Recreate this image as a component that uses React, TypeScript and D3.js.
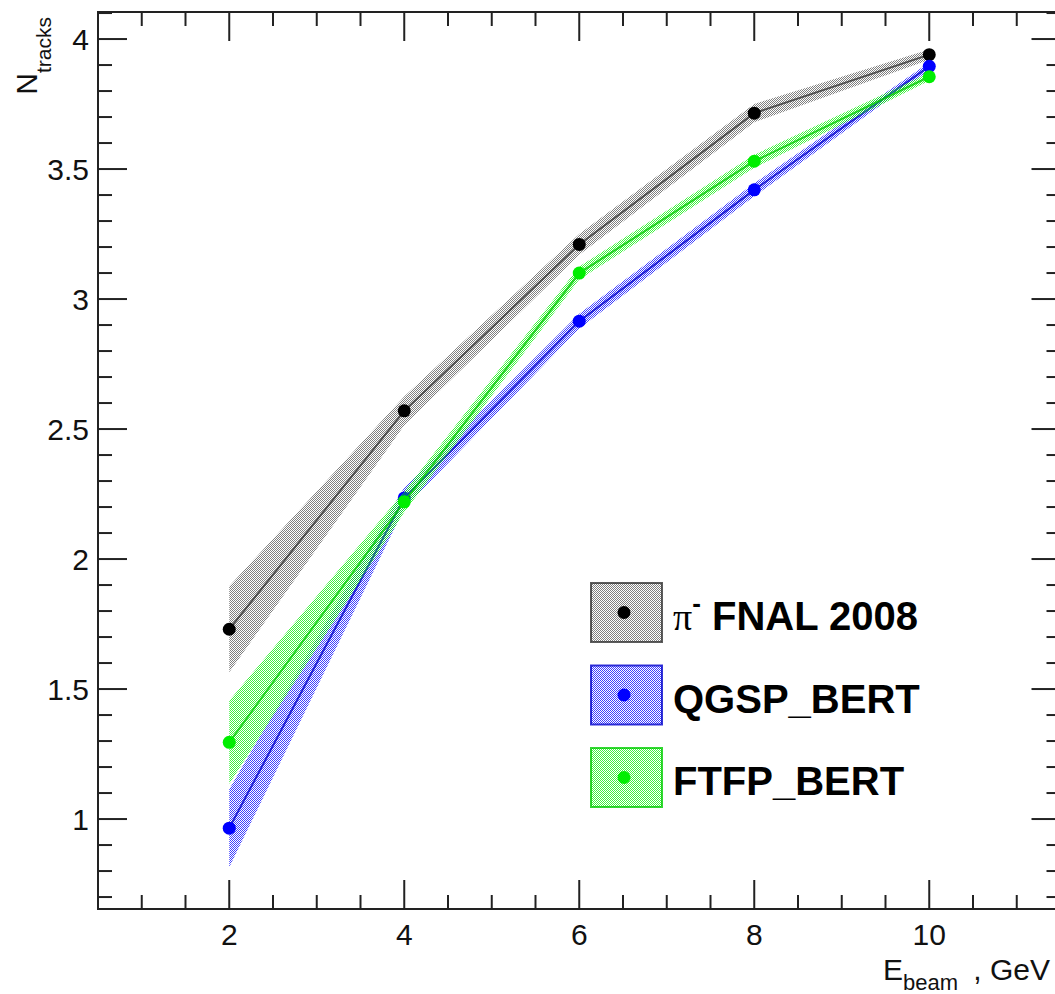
import * as d3 from 'd3';

// beam energies, GeV
const energies = [2, 4, 6, 8, 10];

// mean number of tracks and band half-widths
const fnalNtracks = [1.73, 2.57, 3.21, 3.715, 3.94];
const fnalErr = [0.165, 0.055, 0.04, 0.035, 0.02];
const qgspNtracks = [0.965, 2.235, 2.915, 3.42, 3.895];
const qgspErr = [0.15, 0.04, 0.028, 0.025, 0.015];
const ftfpNtracks = [1.295, 2.22, 3.1, 3.53, 3.855];
const ftfpErr = [0.16, 0.04, 0.025, 0.025, 0.015];

const xTicks = [2, 4, 6, 8, 10];
const yTicks = [1, 1.5, 2, 2.5, 3, 3.5, 4];

const W = 1055;
const H = 994;
const FONT = '"Liberation Sans", Arial, Helvetica, sans-serif';

const series = [
  { id: 'fnal', label: 'FNAL 2008', y: fnalNtracks, err: fnalErr, color: '#000000', line: '#333333' },
  { id: 'qgsp', label: 'QGSP_BERT', y: qgspNtracks, err: qgspErr, color: '#0000ff', line: '#0000cc' },
  { id: 'ftfp', label: 'FTFP_BERT', y: ftfpNtracks, err: ftfpErr, color: '#00ee00', line: '#00cc00' },
];

export default function App() {
  const left = 98, right = 1060.5, top = 12, bottom = 909;
  const x = d3.scaleLinear().domain([0.5, 11.5]).range([left, right]);
  const y = d3.scaleLinear().domain([0.654, 4.104]).range([bottom, top]);

  const line = d3.line<number>().x((_, i) => x(energies[i])).y(d => y(d));

  const xMinor = d3.range(1, 11.51, 0.5).filter(v => Math.abs(v % 2) > 1e-6);
  const yMinor = d3.range(0.7, 4.11, 0.1).filter(v => Math.abs(Math.round(v * 2) / 2 - v) > 1e-6);

  const majL = 29, minL = 14;

  return (
    <svg width={W} height={H} style={{ position: 'absolute', left: 0, top: 0, background: '#fff' }}>
      <defs>
        {series.map(s => (
          <pattern key={s.id} id={`pat-${s.id}`} patternUnits="userSpaceOnUse" x={0} y={0} width={2} height={2}>
            <rect x={0} y={0} width={1} height={1} fill={s.color} />
            <rect x={1} y={1} width={1} height={1} fill={s.color} />
          </pattern>
        ))}
      </defs>

      {series.map(s => {
        const area = d3.area<number>()
          .x((_, i) => x(energies[i]))
          .y0((d, i) => y(d - s.err[i]))
          .y1((d, i) => y(d + s.err[i]));
        return (
          <g key={s.id}>
            <path d={area(s.y) || ''} fill={`url(#pat-${s.id})`} opacity={s.id === 'fnal' ? 0.5 : 0.75} />
            <path d={line(s.y) || ''} fill="none" stroke={s.line} strokeWidth={2} opacity={0.8} />
            {s.y.map((v, i) => (
              <circle key={i} cx={x(energies[i])} cy={y(v)} r={6.5} fill={s.color} />
            ))}
          </g>
        );
      })}

      {/* frame */}
      <rect x={left} y={top} width={right - left} height={bottom - top} fill="none" stroke="#222" strokeWidth={2} />

      {/* x ticks */}
      {xTicks.map(t => (
        <g key={`xt${t}`}>
          <line x1={x(t)} x2={x(t)} y1={bottom} y2={bottom - majL} stroke="#222" strokeWidth={2} />
          <line x1={x(t)} x2={x(t)} y1={top} y2={top + majL} stroke="#222" strokeWidth={2} />
          <text x={x(t)} y={945} textAnchor="middle" fontFamily={FONT} fontSize={30} fill="#111">{t}</text>
        </g>
      ))}
      {xMinor.map(t => (
        <g key={`xm${t}`}>
          <line x1={x(t)} x2={x(t)} y1={bottom} y2={bottom - minL} stroke="#222" strokeWidth={2} />
          <line x1={x(t)} x2={x(t)} y1={top} y2={top + minL} stroke="#222" strokeWidth={2} />
        </g>
      ))}

      {/* y ticks */}
      {yTicks.map(t => (
        <g key={`yt${t}`}>
          <line x1={left} x2={left + majL} y1={y(t)} y2={y(t)} stroke="#222" strokeWidth={2} />
          <line x1={right} x2={right - majL} y1={y(t)} y2={y(t)} stroke="#222" strokeWidth={2} />
          <text x={89} y={y(t) + 11} textAnchor="end" fontFamily={FONT} fontSize={30} fill="#111">{t}</text>
        </g>
      ))}
      {yMinor.map(t => (
        <g key={`ym${t.toFixed(1)}`}>
          <line x1={left} x2={left + minL} y1={y(t)} y2={y(t)} stroke="#222" strokeWidth={2} />
          <line x1={right} x2={right - minL} y1={y(t)} y2={y(t)} stroke="#222" strokeWidth={2} />
        </g>
      ))}

      {/* axis titles */}
      <text x={883} y={980} fontFamily={FONT} fontSize={30} fill="#111">
        E<tspan fontSize={22} dy={10}>beam</tspan>
      </text>
      <text x={1050} y={980} textAnchor="end" fontFamily={FONT} fontSize={30} fill="#111">, GeV</text>
      <text transform="translate(37,17) rotate(-90)" textAnchor="end" fontFamily={FONT} fontSize={30} fill="#111">
        N<tspan fontSize={21} dy={14}>tracks</tspan>
      </text>

      {/* legend */}
      {series.map((s, i) => {
        const by = 583 + i * 82.5;
        return (
          <g key={`leg-${s.id}`}>
            <rect x={591} y={by} width={71} height={59} fill={`url(#pat-${s.id})`} opacity={s.id === 'fnal' ? 0.5 : 0.75} />
            <rect x={591} y={by} width={71} height={59} fill="none" stroke={s.line} strokeWidth={2} opacity={0.8} />
            <circle cx={624} cy={by + 29.5} r={6.5} fill={s.color} />
            {s.id === 'fnal' ? (
              <text x={673} y={by + 47} fontFamily={FONT} fontSize={40} fill="#000">
                <tspan fontFamily='"Liberation Serif", "DejaVu Serif", serif' fontSize={38}>π</tspan>
                <tspan fontSize={26} dy={-18} fontWeight="bold">-</tspan>
                <tspan dy={18} fontWeight="bold">{' ' + s.label}</tspan>
              </text>
            ) : (
              <text x={673} y={by + 47} fontFamily={FONT} fontSize={40} fontWeight="bold" fill="#000">{s.label}</text>
            )}
          </g>
        );
      })}
    </svg>
  );
}
